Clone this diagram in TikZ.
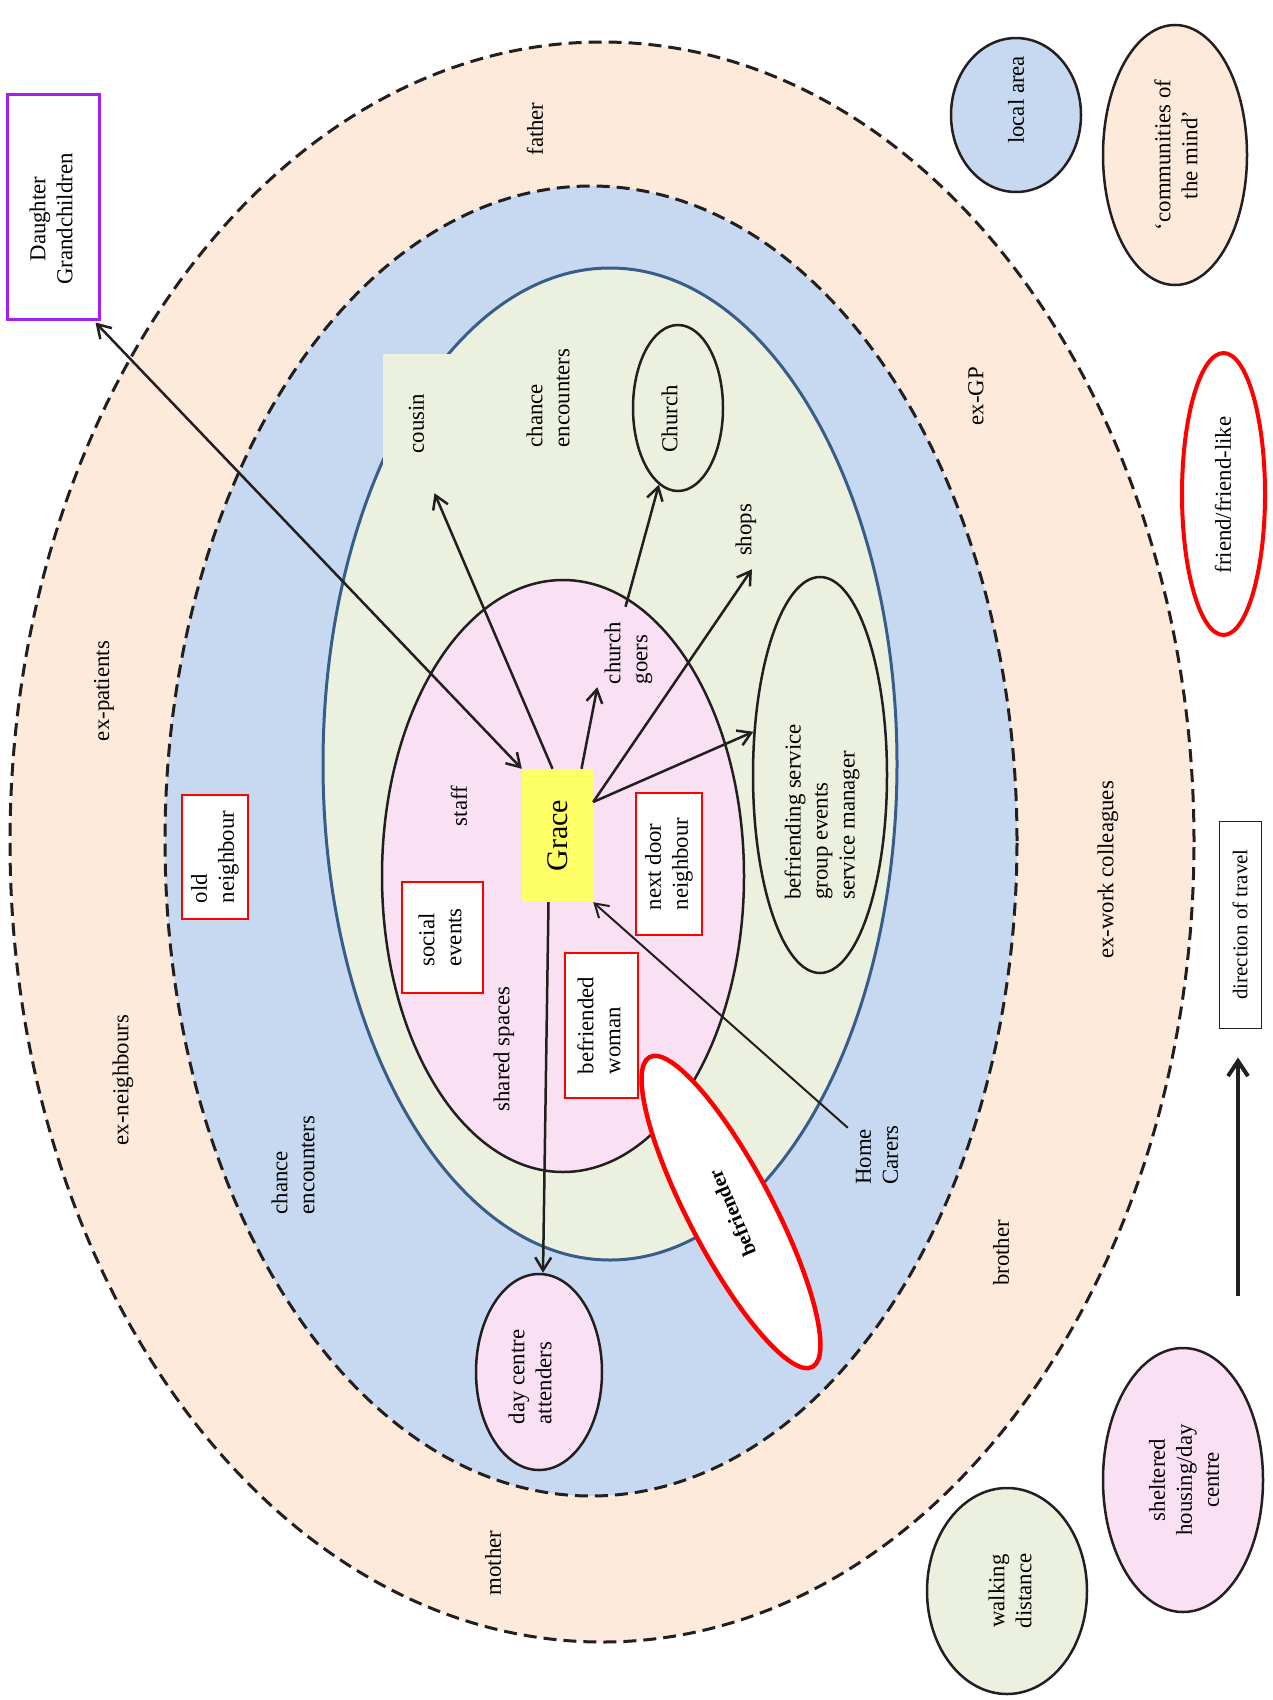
\documentclass[tikz,border=0pt]{standalone}
\usepackage{fontspec}
\setmainfont{Liberation Serif}
\usepackage{graphicx}
\usetikzlibrary{shapes.geometric,arrows.meta}
\definecolor{cPeach}{RGB}{253,234,218}
\definecolor{cBlue}{RGB}{198,217,241}
\definecolor{cGreen}{RGB}{235,241,222}
\definecolor{cPink}{RGB}{249,224,243}
\definecolor{cYellow}{RGB}{255,255,102}
\definecolor{cNavy}{RGB}{56,93,138}
\definecolor{cPurple}{RGB}{163,32,240}
\definecolor{cRed}{RGB}{255,0,0}
\definecolor{cInk}{RGB}{35,31,32}
\newcommand\mainfs{\fontsize{22.8}{27}\selectfont}
\newcommand\rotL[1]{\rotatebox{90}{\begin{tabular}{@{}l@{}}#1\end{tabular}}}
\newcommand\rotC[1]{\rotatebox{90}{\begin{tabular}{@{}c@{}}#1\end{tabular}}}
\begin{document}
\begin{tikzpicture}[x=1pt,y=-1pt,
  ring/.style={ellipse, inner sep=0pt, draw=cInk, line width=3pt, dash pattern=on 13pt off 7pt},
  oval/.style={ellipse, inner sep=0pt, draw=cInk, line width=2.5pt},
  lbl/.style={rotate=90, font=\mainfs, align=left, inner sep=0pt},
  rbox/.style={draw=cRed, line width=1.5pt, fill=white, font=\mainfs, inner sep=0pt},
  txt/.style={font=\mainfs, inner sep=0pt},
  arr/.style={draw=cInk, line width=2.5pt, -{Straight Barb[length=13pt,width=16pt]}},
  darr/.style={draw=cInk, line width=2.5pt, {Straight Barb[length=13pt,width=16pt]}-{Straight Barb[length=13pt,width=16pt]}}
]
\fill[white] (0,0) rectangle (1273,1700);
\useasboundingbox (0,0) rectangle (1273,1700);

% rings
\node[ring, fill=cPeach, minimum width=1184pt, minimum height=1600pt] (outer) at (602,842) {};
\node[ring, fill=cBlue, minimum width=852pt, minimum height=1310pt] (middle) at (591,841) {};
\node[ellipse, inner sep=0pt, fill=cGreen, draw=cNavy, line width=3pt, minimum width=574pt, minimum height=992pt] (inner) at (610,764) {};
\node[txt, fill=cGreen, minimum width=67pt, minimum height=139pt] (cousin) at (416.5,423.5) {\rotatebox{90}{cousin}};
\node[oval, fill=cPink, minimum width=362pt, minimum height=592pt] (core) at (563,876) {};
\node[oval, fill=cGreen, minimum width=90pt, minimum height=166pt] (church) at (678,408) {};
\node[oval, fill=cGreen, minimum width=134pt, minimum height=396pt] (befserv) at (820,775) {};
\node[oval, fill=cPink, minimum width=126pt, minimum height=196pt] (dayc) at (539,1372) {};
\node[ellipse, inner sep=0pt, draw=cRed, line width=4.5pt, fill=white, minimum width=350pt, minimum height=84pt, rotate=117.7] (befr) at (731,1212) {};
\node[rotate=113, font=\fontsize{20.5}{24}\selectfont\bfseries, inner sep=0pt] (befrtxt) at (732,1213) {befriender};

% boxes
\node[rbox, minimum width=66pt, minimum height=124pt] (oldn) at (215,857) {\rotL{old\\neighbour}};
\node[rbox, minimum width=81pt, minimum height=111pt] (social) at (442.5,937.5) {\rotL{social\\events}};
\node[rbox, minimum width=73pt, minimum height=145pt] (befw) at (601.5,1025.5) {\rotL{befriended\\woman}};
\node[rbox, minimum width=66pt, minimum height=142pt] (nextd) at (669,864) {\rotL{next door\\neighbour}};
\node[fill=cYellow, inner sep=0pt, minimum width=71pt, minimum height=133pt, font=\fontsize{30}{36}\selectfont] (grace) at (557.5,835.5) {\rotatebox{90}{Grace}};
\node[draw=cPurple, line width=3pt, fill=white, inner sep=0pt, minimum width=92pt, minimum height=225pt] (daughter) at (53,206.5) {};
\node[lbl, align=center] (daughtertxt) at (51,219) {Daughter\\Grandchildren};

% labels
\node[lbl] (father) at (535,129) {father};
\node[lbl] (exgp) at (976,396) {ex-GP};
\node[lbl] (exwork) at (1108,870) {ex-work colleagues};
\node[lbl] (brother) at (1001,1253) {brother};
\node[lbl] (mother) at (493,1563) {mother};
\node[lbl] (exneigh) at (123,1080) {ex-neighbours};
\node[lbl] (expat) at (104,691) {ex-patients};
\node[lbl] (chanceA) at (293,1165) {chance\\encounters};
\node[lbl] (chanceB) at (548,398) {chance\\encounters};
\node[lbl] (staff) at (459,806) {staff};
\node[lbl] (shared) at (504,1049) {shared spaces};
\node[lbl] (churchtxt) at (669.5,419) {Church};
\node[txt, minimum width=20pt, minimum height=52pt] (shops) at (746,530) {\rotatebox{90}{shops}};
\node[txt, minimum width=44pt, minimum height=62pt] (goers) at (628.5,653) {\rotL{church\\goers}};
\node[txt, minimum width=46pt, minimum height=60pt] (home) at (879,1155) {\rotL{Home\\Carers}};
\node[lbl] (befservtxt) at (822,812) {befriending service\\group events\\service manager};
\node[lbl] (dayctxt) at (530,1377) {day centre\\attenders};

% legend
\node[oval, fill=cBlue, minimum width=130pt, minimum height=154pt] (lglocal) at (1016,115) {};
\node[lbl] (lglocaltxt) at (1016,100) {local area};
\node[oval, fill=cPeach, minimum width=144pt, minimum height=260pt] (lgcomm) at (1175,155) {};
\node[lbl, align=center] (lgcommtxt) at (1176,155) {`communities of\\the mind'};
\node[ellipse, inner sep=0pt, draw=cRed, line width=4pt, fill=white, minimum width=83pt, minimum height=282pt] (lgfriend) at (1223.5,494) {};
\node[lbl] (lgfriendtxt) at (1223,495) {friend/friend-like};
\node[draw=cInk, line width=1pt, fill=white, inner sep=0pt, minimum width=42pt, minimum height=207pt, font=\fontsize{21}{25}\selectfont] (dirbox) at (1240,924.5) {\rotatebox{90}{direction of travel}};
\coordinate (dirstart) at (1238,1296);
\node[oval, fill=cGreen, minimum width=160pt, minimum height=206pt] (lgwalk) at (1007,1591) {};
\node[lbl, align=center] (lgwalktxt) at (1010,1591) {walking\\distance};
\node[oval, fill=cPink, minimum width=160pt, minimum height=264pt] (lgshel) at (1183,1480) {};
\node[lbl, align=center] (lgsheltxt) at (1184,1480) {sheltered\\housing/day\\centre};

% connectors
\draw[darr] ([shift={(-5,2)}]daughter.south east) -- (grace.north west);
\draw[arr] ([xshift=-5pt]grace.north) -- ([xshift=18pt]cousin.south);
\draw[arr] ([xshift=24pt]grace.north) -- ([shift={(-4,3)}]goers.south west);
\draw[arr] ([shift={(-3,-15)}]goers.north) -- (church.-104);
\draw[arr] ([shift={(0,-33.5)}]grace.east) -- ([shift={(6,13)}]shops.south);
\draw[arr] ([shift={(0,-33.5)}]grace.east) -- (befserv.147);
\draw[arr] ([xshift=-9pt]grace.south) -- ([xshift=4pt]dayc.north);
\draw[arr, line width=2pt] ([shift={(-4,3)}]home.north west) -- (grace.south east);
\draw[draw=cInk, line width=4pt, -{Straight Barb[length=15pt,width=20pt]}] (dirstart) -- ([shift={(-2,29)}]dirbox.south);
\end{tikzpicture}
\end{document}
